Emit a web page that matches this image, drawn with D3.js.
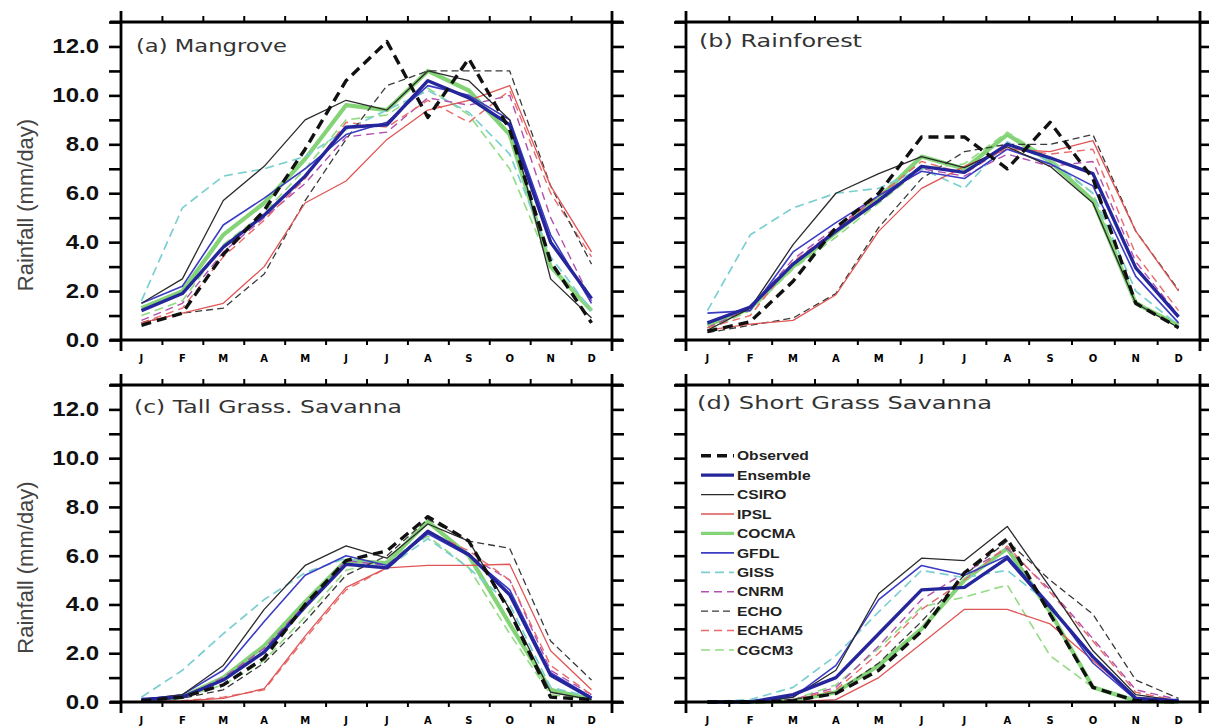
<!DOCTYPE html>
<html>
<head>
<meta charset="utf-8">
<script src="https://cdn.jsdelivr.net/npm/d3@7/dist/d3.min.js"></script>
<style>
  body { margin: 0; background: #ffffff; }
  svg { display: block; }
</style>
</head>
<body>
<svg id="chart" width="1209" height="727"></svg>
<script>
// Monthly mean rainfall (mm/day) per ecological zone: observed, ensemble mean and individual models
const months = ["J", "F", "M", "A", "M", "J", "J", "A", "S", "O", "N", "D"];
const seriesNames = ["Observed", "Ensemble", "CSIRO", "IPSL", "COCMA", "GFDL", "GISS", "CNRM", "ECHO", "ECHAM5", "CGCM3"];
const panelTitles = ["(a) Mangrove", "(b) Rainforest", "(c) Tall Grass. Savanna", "(d) Short Grass Savanna"];
const yTicks = [0, 1, 2, 3, 4, 5, 6, 7, 8, 9, 10, 11, 12, 13];
const yLabelTicks = [0, 2, 4, 6, 8, 10, 12];
const yAxisTitle = "Rainfall (mm/day)";

// rows follow seriesNames order
const mangrove = [
  [0.6, 1.1, 3.5, 5.3, 7.8, 10.6, 12.2, 9.1, 11.5, 8.6, 3.2, 0.7],
  [1.2, 1.9, 3.8, 5.1, 6.7, 8.7, 8.8, 10.6, 9.9, 8.8, 4.0, 1.7],
  [1.5, 2.5, 5.7, 7.1, 9.0, 9.8, 9.4, 11.0, 10.6, 9.0, 2.5, 0.9],
  [0.7, 1.1, 1.5, 3.0, 5.6, 6.5, 8.2, 9.4, 9.8, 10.4, 6.3, 3.6],
  [1.3, 2.0, 4.3, 5.6, 7.4, 9.6, 9.4, 11.0, 10.2, 8.4, 3.0, 1.2],
  [1.5, 2.2, 4.7, 5.8, 7.0, 8.4, 8.9, 10.4, 10.0, 9.0, 4.3, 1.5],
  [1.6, 5.4, 6.7, 7.0, 7.5, 8.6, 9.4, 10.2, 9.3, 7.6, 3.4, 1.2],
  [0.8, 1.5, 3.6, 5.0, 6.4, 8.3, 8.5, 9.9, 9.6, 10.0, 5.0, 1.6],
  [0.7, 1.1, 1.3, 2.7, 5.7, 8.2, 10.4, 11.0, 11.0, 11.0, 6.3, 3.1],
  [0.7, 1.3, 3.4, 4.9, 6.6, 8.9, 8.7, 9.8, 8.9, 10.2, 6.0, 3.4],
  [1.0, 1.6, 3.9, 5.2, 7.0, 9.0, 9.2, 10.3, 9.2, 7.0, 3.0, 1.2]
];
const rainforest = [
  [0.35, 0.75, 2.4, 4.6, 6.0, 8.3, 8.3, 7.0, 8.9, 6.6, 1.5, 0.5],
  [0.7, 1.35, 3.1, 4.45, 5.7, 7.1, 6.85, 8.0, 7.45, 6.8, 2.95, 0.95],
  [0.4, 1.3, 3.9, 6.0, 6.8, 7.5, 7.05, 7.9, 7.1, 5.6, 1.5, 0.5],
  [0.4, 0.65, 0.8, 1.85, 4.45, 6.2, 7.1, 7.8, 7.7, 8.15, 4.45, 2.0],
  [0.6, 1.3, 3.0, 4.4, 5.8, 7.5, 7.0, 8.4, 7.3, 5.7, 1.5, 0.6],
  [1.1, 1.2, 3.6, 4.8, 5.9, 6.9, 6.6, 7.8, 7.2, 6.3, 2.6, 0.7],
  [1.2, 4.3, 5.4, 6.0, 6.2, 7.0, 6.2, 8.1, 7.3, 6.0, 2.0, 0.6],
  [0.5, 1.3, 3.3, 4.6, 5.9, 7.0, 6.7, 7.6, 7.1, 7.3, 3.2, 1.0],
  [0.3, 0.6, 0.9, 1.9, 4.6, 6.6, 7.7, 8.0, 8.0, 8.4, 4.45, 2.05],
  [0.5, 1.0, 3.2, 4.5, 5.9, 7.3, 6.8, 7.9, 7.6, 7.8, 3.5, 1.2],
  [0.4, 1.2, 2.9, 4.2, 5.6, 7.0, 7.2, 8.5, 7.4, 6.0, 1.6, 0.5]
];
const tallGrass = [
  [0.05, 0.2, 0.7, 1.8, 4.0, 5.8, 6.2, 7.6, 6.6, 3.7, 0.2, 0.1],
  [0.1, 0.2, 0.9, 2.05, 3.9, 5.65, 5.5, 7.0, 6.05, 4.4, 1.1, 0.15],
  [0.1, 0.3, 1.5, 3.8, 5.6, 6.4, 5.9, 7.3, 6.6, 3.8, 0.4, 0.1],
  [0.0, 0.05, 0.15, 0.55, 2.7, 4.7, 5.5, 5.6, 5.6, 5.65, 2.1, 0.5],
  [0.05, 0.2, 1.0, 2.3, 4.1, 5.8, 5.7, 7.4, 6.0, 3.2, 0.5, 0.1],
  [0.1, 0.3, 1.3, 3.3, 5.2, 6.0, 5.6, 6.9, 6.0, 4.6, 1.2, 0.2],
  [0.2, 1.3, 2.8, 4.2, 5.3, 5.9, 5.5, 6.7, 5.5, 4.0, 0.6, 0.2],
  [0.1, 0.2, 1.0, 2.2, 4.0, 5.8, 5.6, 7.0, 6.0, 5.0, 1.3, 0.3],
  [0.05, 0.15, 0.5, 1.6, 3.3, 5.2, 6.0, 7.5, 6.6, 6.3, 2.5, 0.9],
  [0.0, 0.05, 0.2, 0.5, 2.6, 4.6, 5.5, 7.0, 6.2, 5.0, 1.5, 0.3],
  [0.05, 0.2, 0.7, 1.7, 3.5, 5.4, 5.8, 6.8, 5.5, 2.8, 0.3, 0.1]
];
const shortGrass = [
  [0.0, 0.0, 0.05, 0.35, 1.3, 2.9, 5.3, 6.7, 3.6, 0.6, 0.05, 0.0],
  [0.0, 0.0, 0.3, 1.0, 2.8, 4.6, 4.7, 5.9, 3.9, 1.85, 0.15, 0.05],
  [0.0, 0.0, 0.2, 1.3, 4.45, 5.9, 5.8, 7.2, 4.7, 2.1, 0.3, 0.05],
  [0.0, 0.0, 0.0, 0.1, 1.0, 2.4, 3.8, 3.8, 3.2, 1.7, 0.2, 0.05],
  [0.0, 0.0, 0.05, 0.4, 1.5, 3.0, 5.0, 6.3, 3.7, 0.6, 0.05, 0.0],
  [0.0, 0.0, 0.2, 1.5, 4.2, 5.6, 5.2, 6.0, 4.0, 1.6, 0.1, 0.0],
  [0.0, 0.1, 0.6, 1.9, 3.7, 5.4, 5.1, 5.4, 4.0, 1.8, 0.2, 0.0],
  [0.0, 0.0, 0.1, 0.6, 2.3, 4.2, 5.3, 6.3, 4.6, 2.6, 0.5, 0.1],
  [0.0, 0.0, 0.1, 0.4, 1.6, 3.3, 5.2, 6.6, 5.0, 3.6, 0.9, 0.15],
  [0.0, 0.0, 0.1, 0.5, 2.0, 3.8, 5.0, 6.4, 4.5, 2.5, 0.4, 0.05],
  [0.0, 0.0, 0.1, 0.7, 2.2, 3.9, 4.3, 4.8, 1.9, 0.6, 0.1, 0.0]
];

const panelData = [mangrove, rainforest, tallGrass, shortGrass];

// line appearance for each series
const seriesStyle = {
  Observed: { color: "#111111", width: 3.4, dash: "10,6" },
  Ensemble: { color: "#26269c", width: 3.4, dash: null },
  CSIRO:    { color: "#2a2a2a", width: 1.3, dash: null },
  IPSL:     { color: "#e05555", width: 1.3, dash: null },
  COCMA:    { color: "#6fcc5f", width: 4.2, dash: null, opacity: 0.85 },
  GFDL:     { color: "#3c3cc4", width: 1.6, dash: null },
  GISS:     { color: "#7ccfd0", width: 1.7, dash: "9,5" },
  CNRM:     { color: "#b050b0", width: 1.4, dash: "8,5" },
  ECHO:     { color: "#3a3a3a", width: 1.3, dash: "7,4" },
  ECHAM5:   { color: "#e86a6a", width: 1.4, dash: "8,5" },
  CGCM3:    { color: "#92db82", width: 1.6, dash: "9,5" }
};
// painting order: wide light lines first, observed on top
const drawOrder = ["COCMA", "CGCM3", "GISS", "CNRM", "ECHAM5", "ECHO", "IPSL", "GFDL", "CSIRO", "Ensemble", "Observed"];

const panels = [
  { left: 121, right: 612, top: 22, bottom: 340, yLabels: true },
  { left: 686, right: 1200, top: 22, bottom: 340, yLabels: false },
  { left: 121, right: 612, top: 385, bottom: 702, yLabels: true },
  { left: 686, right: 1200, top: 385, bottom: 702, yLabels: false }
];
const titleLayout = [
  { x: 136, y: 52, len: 151 },
  { x: 699, y: 47, len: 163 },
  { x: 134, y: 413, len: 268 },
  { x: 697, y: 409, len: 295 }
];

const svg = d3.select("#chart");
const ext = 11;

panels.forEach((p, k) => {
  const g = svg.append("g");
  const x = d3.scaleBand().domain(d3.range(months.length)).range([p.left, p.right]);
  const xEdge = d3.scaleLinear().domain([0, months.length]).range([p.left, p.right]);
  const xc = i => x(i) + x.bandwidth() / 2;
  const y = d3.scaleLinear().domain([0, 13]).range([p.bottom, p.top]);

  // series lines
  const line = d3.line().x((d, i) => xc(i)).y(d => y(d));
  const rows = panelData[k];
  drawOrder.forEach(name => {
    const s = seriesStyle[name];
    const vals = rows[seriesNames.indexOf(name)];
    g.append("path")
      .datum(vals)
      .attr("d", line)
      .attr("fill", "none")
      .attr("stroke", s.color)
      .attr("stroke-width", s.width)
      .attr("stroke-dasharray", s.dash)
      .attr("stroke-opacity", s.opacity || 1)
      .attr("stroke-linejoin", "round");
  });

  // y ticks on both sides, pointing outward
  const leftAxis = d3.axisLeft(y).tickValues(yTicks).tickSize(12).tickFormat("");
  const rightAxis = d3.axisRight(y).tickValues(yTicks).tickSize(12).tickFormat("");
  [[leftAxis, p.left], [rightAxis, p.right]].forEach(([ax, pos]) => {
    const a = g.append("g").attr("transform", `translate(${pos},0)`).call(ax);
    a.select(".domain").remove();
    a.selectAll("line").attr("stroke", "#000").attr("stroke-width", 2.6);
  });

  // month boundary ticks at top and bottom
  const topAxis = d3.axisTop(xEdge).tickValues(d3.range(1, months.length)).tickSize(6).tickFormat("");
  const bottomAxis = d3.axisBottom(xEdge).tickValues(d3.range(1, months.length)).tickSize(5).tickFormat("");
  [[topAxis, p.top], [bottomAxis, p.bottom]].forEach(([ax, pos]) => {
    const a = g.append("g").attr("transform", `translate(0,${pos})`).call(ax);
    a.select(".domain").remove();
    a.selectAll("line").attr("stroke", "#000").attr("stroke-width", 2);
  });

  // frame with lines running past the corners
  const frame = [
    [p.left - ext, p.top, p.right + ext, p.top],
    [p.left - ext, p.bottom, p.right + ext, p.bottom],
    [p.left, p.top - ext, p.left, p.bottom + ext],
    [p.right, p.top - ext, p.right, p.bottom + ext]
  ];
  g.selectAll("line.frame").data(frame).join("line")
    .attr("class", "frame")
    .attr("x1", d => d[0]).attr("y1", d => d[1])
    .attr("x2", d => d[2]).attr("y2", d => d[3])
    .attr("stroke", "#000").attr("stroke-width", 2.8);

  // month letters
  g.selectAll("text.month").data(months).join("text")
    .attr("class", "month")
    .attr("x", (d, i) => xc(i))
    .attr("y", p.bottom + 21.5)
    .attr("text-anchor", "middle")
    .attr("font-family", "DejaVu Sans, sans-serif")
    .attr("font-weight", "bold")
    .attr("font-size", 10)
    .attr("fill", "#000")
    .text(d => d);

  // rainfall value labels
  if (p.yLabels) {
    g.selectAll("text.ylab").data(yLabelTicks).join("text")
      .attr("class", "ylab")
      .attr("transform", d => `translate(${p.left - 22},${y(d) + 7}) scale(1.2,1)`)
      .attr("text-anchor", "end")
      .attr("font-family", "Liberation Sans, Arial, sans-serif")
      .attr("font-weight", "bold")
      .attr("font-size", 20)
      .attr("fill", "#111")
      .text(d => d3.format(".1f")(d));

    g.append("text")
      .attr("transform", `translate(25,${(p.top + p.bottom) / 2 + 24}) rotate(-90)`)
      .attr("text-anchor", "middle")
      .attr("dominant-baseline", "central")
      .attr("font-family", "Liberation Sans, Arial, sans-serif")
      .attr("font-size", 22)
      .attr("fill", "#444")
      .text(yAxisTitle);
  }

  // panel title
  const t = titleLayout[k];
  g.append("text")
    .attr("x", t.x)
    .attr("y", t.y)
    .attr("font-family", "DejaVu Sans, sans-serif")
    .attr("font-size", 17)
    .attr("fill", "#333")
    .attr("textLength", t.len)
    .attr("lengthAdjust", "spacingAndGlyphs")
    .text(panelTitles[k]);
});

// legend inside the short grass panel
const legend = svg.append("g");
const legendY = d3.scalePoint().domain(seriesNames).range([455.7, 650]);
seriesNames.forEach(name => {
  const s = seriesStyle[name];
  const yy = legendY(name);
  legend.append("line")
    .attr("x1", 701).attr("x2", 734)
    .attr("y1", yy).attr("y2", yy)
    .attr("stroke", s.color)
    .attr("stroke-width", Math.min(s.width, 3.4))
    .attr("stroke-dasharray", s.dash)
    .attr("stroke-opacity", s.opacity || 1);
  legend.append("text")
    .attr("transform", `translate(737,${yy + 4.7}) scale(1.2,1)`)
    .attr("font-family", "Liberation Sans, Arial, sans-serif")
    .attr("font-weight", "bold")
    .attr("font-size", 13)
    .attr("fill", "#222")
    .text(name);
});
</script>
</body>
</html>
